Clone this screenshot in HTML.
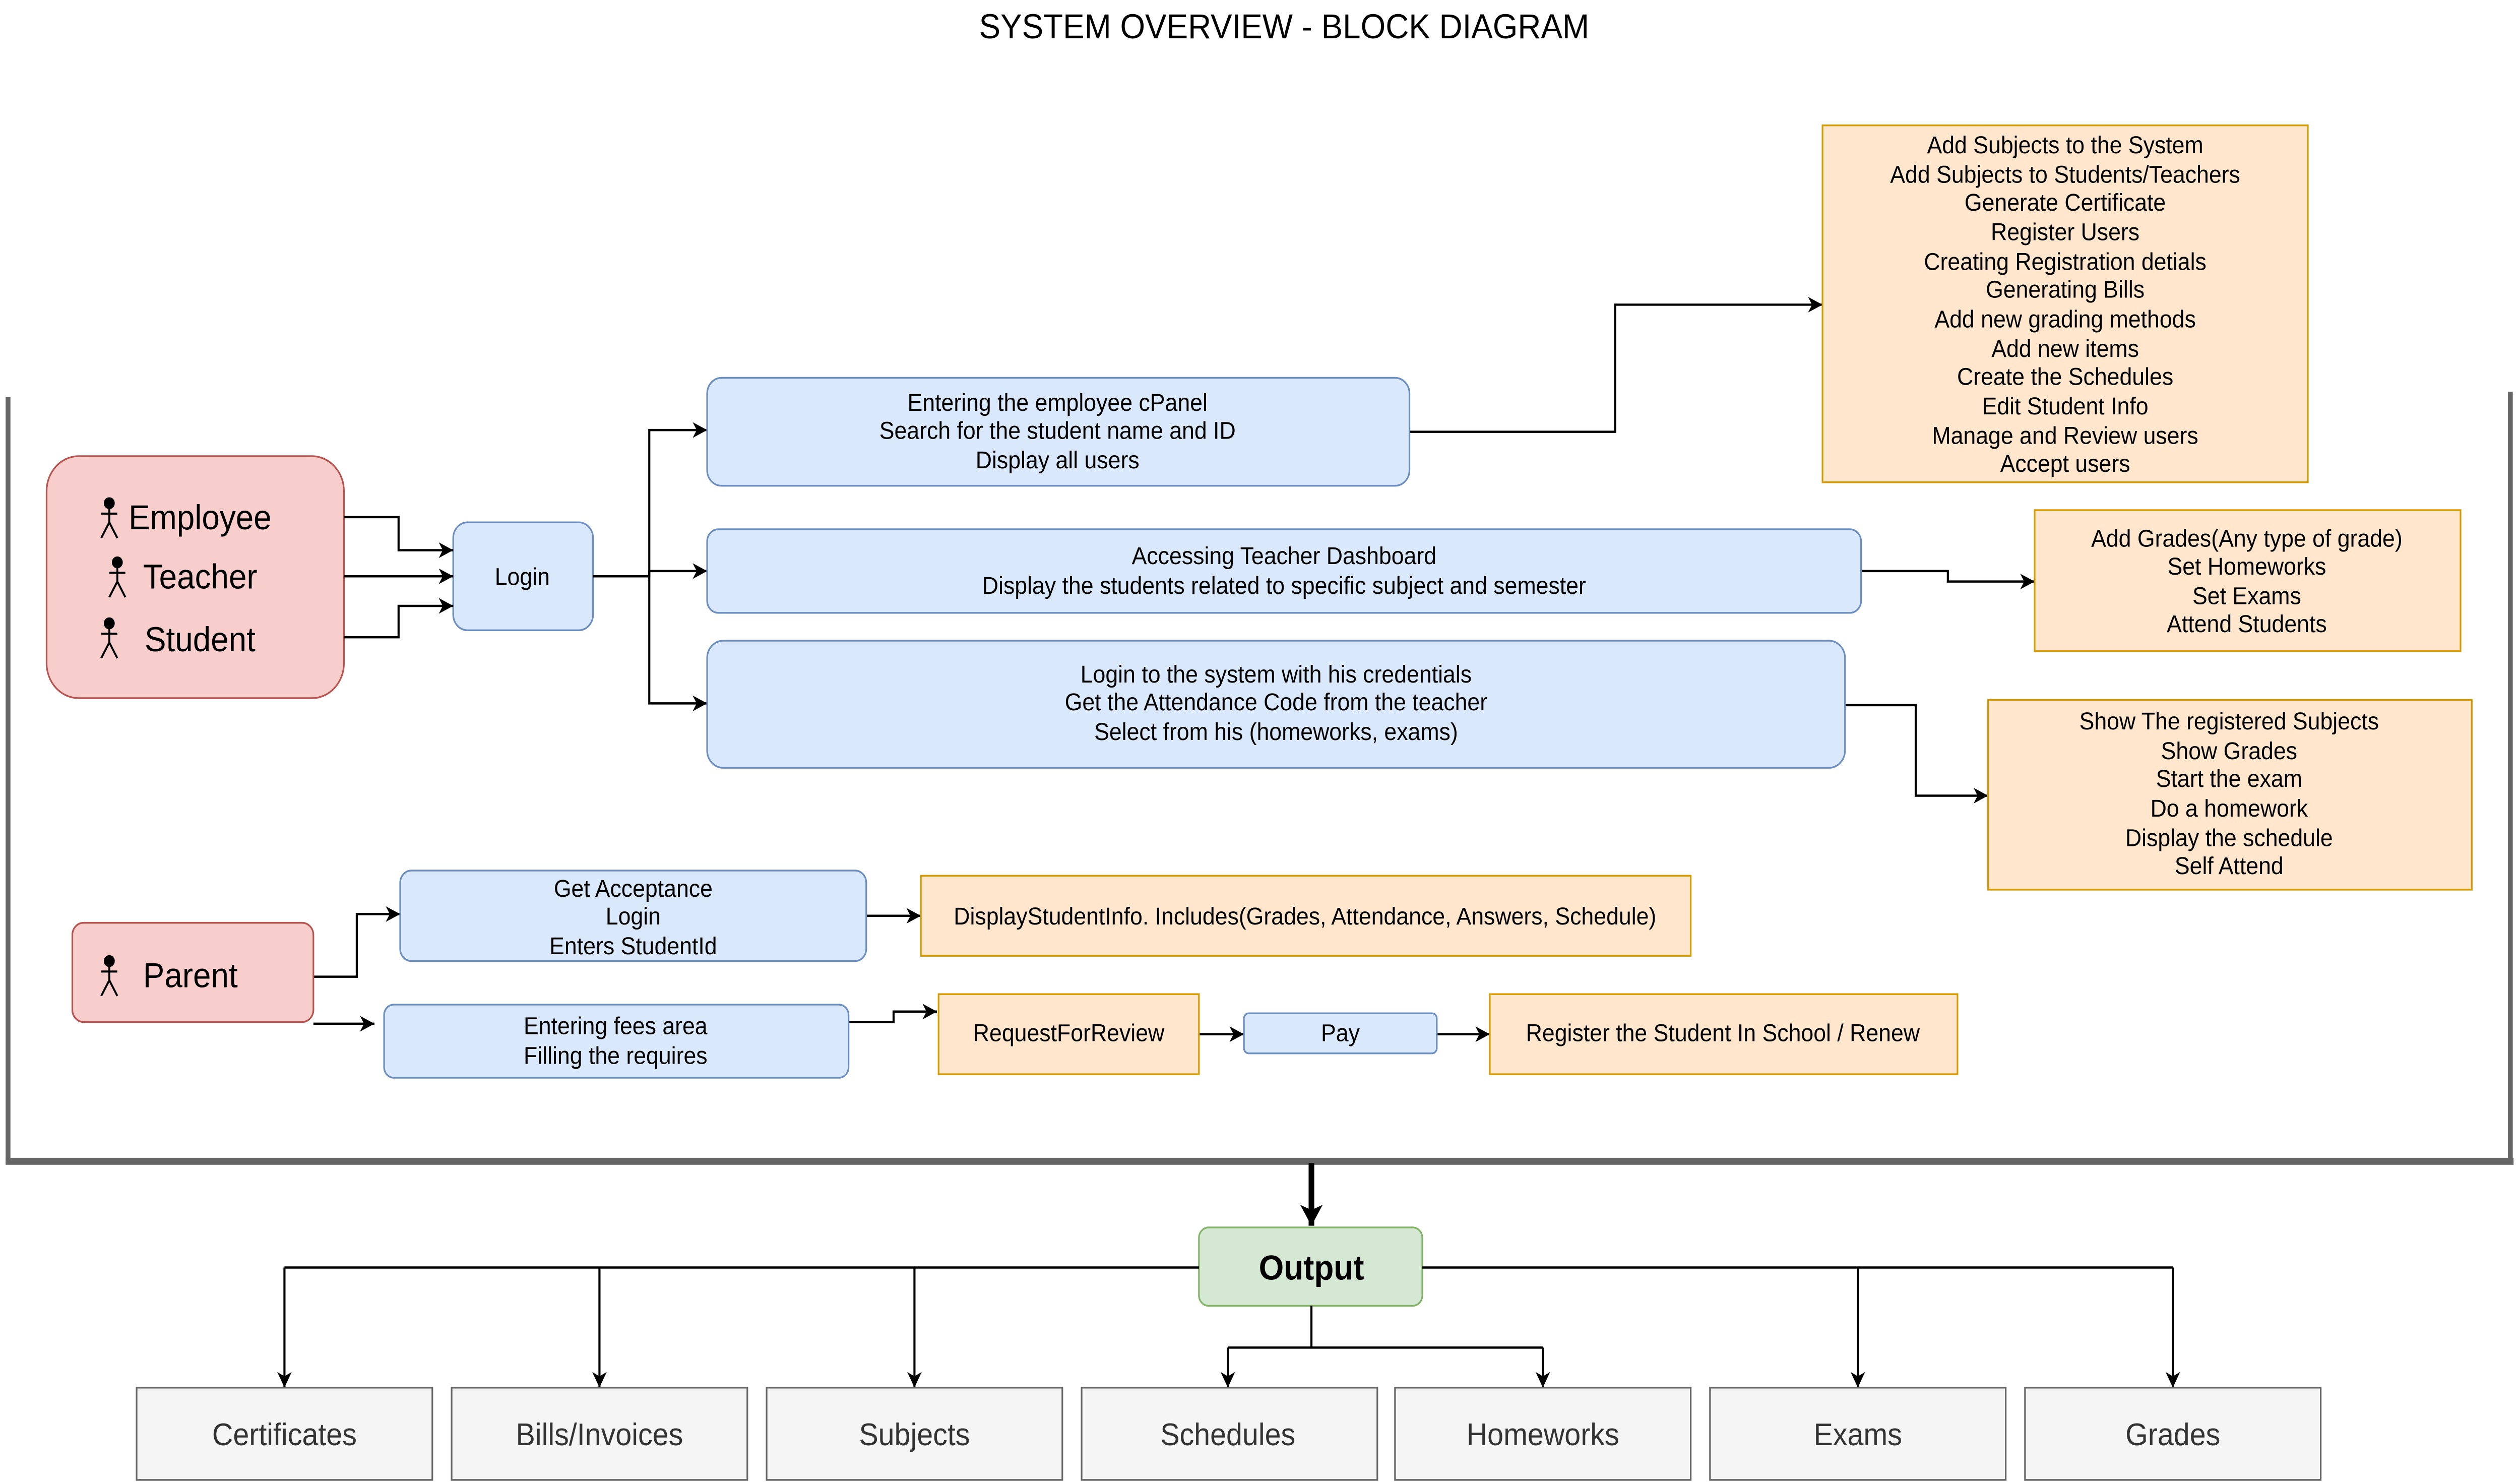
<!DOCTYPE html>
<html><head><meta charset="utf-8"><style>
html,body{margin:0;padding:0;background:#fff;overflow:hidden;width:100%;height:100%;}
svg{display:block;position:fixed;left:0;top:0;width:100vw;height:100vh;}
text{font-family:"Liberation Sans",Helvetica,Arial,sans-serif;}
</style></head><body>
<svg xmlns="http://www.w3.org/2000/svg" viewBox="0 0 1568 851.2" preserveAspectRatio="none">
<defs>
<marker id="a" markerWidth="10" markerHeight="10" refX="9" refY="5" orient="auto" markerUnits="userSpaceOnUse"><path d="M0,0.5 L9,5 L0,9.5 L2.5,5 Z" fill="#000"/></marker>
<marker id="a2" markerWidth="14" markerHeight="14" refX="12" refY="7" orient="auto" markerUnits="userSpaceOnUse"><path d="M0,0 L12,7 L0,14 L3,7 Z" fill="#000"/></marker>
<g id="act" stroke="#000" stroke-width="1.2" fill="none"><circle cx="0" cy="-8" r="2.8" fill="#000"/><line x1="0" y1="-5.4" x2="0" y2="3"/><line x1="-5" y1="-2" x2="5" y2="-2"/><line x1="0" y1="3" x2="-5" y2="12"/><line x1="0" y1="3" x2="5" y2="12"/></g>
</defs>
<text x="799" y="22" font-size="20" text-anchor="middle">SYSTEM OVERVIEW - BLOCK DIAGRAM</text>

<g stroke="#666" fill="none">
<line x1="5" y1="228" x2="5" y2="668" stroke-width="3"/>
<line x1="1562" y1="225" x2="1562" y2="668" stroke-width="3"/>
<line x1="3.5" y1="667" x2="1564" y2="667" stroke-width="4"/>
</g>

<rect x="29" y="262" width="185" height="139" rx="20" fill="#f8cecc" stroke="#b85450" stroke-width="1"/>
<use href="#act" x="68" y="297"/><text x="80" y="304" font-size="20">Employee</text>
<use href="#act" x="73" y="331"/><text x="89" y="338" font-size="20">Teacher</text>
<use href="#act" x="68" y="366"/><text x="90" y="374" font-size="20">Student</text>

<rect x="282" y="300" width="87" height="62" rx="9" fill="#dae8fc" stroke="#6c8ebf"/>
<text x="325" y="336" font-size="14" text-anchor="middle">Login</text>

<g stroke="#000" stroke-width="1.3" fill="none" marker-end="url(#a)">
<polyline points="214,297 248,297 248,316 282,316"/>
<polyline points="214,331 282,331"/>
<polyline points="214,366 248,366 248,348 282,348"/>
<polyline points="369,331 404,331 404,247 440,247"/>
<polyline points="404,331 404,328 440,328"/>
<polyline points="404,331 404,404 440,404"/>
<polyline points="877,248 1005,248 1005,175 1134,175"/>
<polyline points="1158,328 1212,328 1212,334 1266,334"/>
<polyline points="1148,405 1192,405 1192,457 1237,457"/>
<polyline points="195,561 222,561 222,525 249,525"/>
<polyline points="195,588 233,588"/>
<polyline points="539,526 573,526"/>
<polyline points="528,587 556,587 556,581 583,581"/>
<polyline points="746,594 774,594"/>
<polyline points="894,594 927,594"/>
</g>

<g fill="#dae8fc" stroke="#6c8ebf">
<rect x="440" y="217" width="437" height="62" rx="9"/>
<rect x="440" y="304" width="718" height="48" rx="7"/>
<rect x="440" y="368" width="708" height="73" rx="10"/>
<rect x="249" y="500" width="290" height="52" rx="7"/>
<rect x="239" y="577" width="289" height="42" rx="6"/>
<rect x="774" y="582" width="120" height="23" rx="3"/>
</g>
<g font-size="14" text-anchor="middle">
<text x="658" y="236">Entering the employee cPanel</text>
<text x="658" y="252">Search for the student name and ID</text>
<text x="658" y="269">Display all users</text>
<text x="799" y="324">Accessing Teacher Dashboard</text>
<text x="799" y="341">Display the students related to specific subject and semester</text>
<text x="794" y="392">Login to the system with his credentials</text>
<text x="794" y="408">Get the Attendance Code from the teacher</text>
<text x="794" y="425">Select from his (homeworks, exams)</text>
<text x="394" y="515">Get Acceptance</text>
<text x="394" y="531">Login</text>
<text x="394" y="548">Enters StudentId</text>
<text x="383" y="594">Entering fees area</text>
<text x="383" y="611">Filling the requires</text>
<text x="834" y="598">Pay</text>
</g>

<g fill="#ffe6cc" stroke="#d79b00">
<rect x="1134" y="72" width="302" height="205"/>
<rect x="1266" y="293" width="265" height="81"/>
<rect x="1237" y="402" width="301" height="109"/>
<rect x="573" y="503" width="479" height="46"/>
<rect x="584" y="571" width="162" height="46"/>
<rect x="927" y="571" width="291" height="46"/>
</g>
<g font-size="14" text-anchor="middle">
<text x="1285" y="88">Add Subjects to the System</text>
<text x="1285" y="105">Add Subjects to Students/Teachers</text>
<text x="1285" y="121">Generate Certificate</text>
<text x="1285" y="138">Register Users</text>
<text x="1285" y="155">Creating Registration detials</text>
<text x="1285" y="171">Generating Bills</text>
<text x="1285" y="188">Add new grading methods</text>
<text x="1285" y="205">Add new items</text>
<text x="1285" y="221">Create the Schedules</text>
<text x="1285" y="238">Edit Student Info</text>
<text x="1285" y="255">Manage and Review users</text>
<text x="1285" y="271">Accept users</text>
<text x="1398" y="314">Add Grades(Any type of grade)</text>
<text x="1398" y="330">Set Homeworks</text>
<text x="1398" y="347">Set Exams</text>
<text x="1398" y="363">Attend Students</text>
<text x="1387" y="419">Show The registered Subjects</text>
<text x="1387" y="436">Show Grades</text>
<text x="1387" y="452">Start the exam</text>
<text x="1387" y="469">Do a homework</text>
<text x="1387" y="486">Display the schedule</text>
<text x="1387" y="502">Self Attend</text>
<text x="812" y="531">DisplayStudentInfo. Includes(Grades, Attendance, Answers, Schedule)</text>
<text x="665" y="598">RequestForReview</text>
<text x="1072" y="598">Register the Student In School / Renew</text>
</g>

<rect x="45" y="530" width="150" height="57" rx="7" fill="#f8cecc" stroke="#b85450"/>
<use href="#act" x="68" y="560"/><text x="89" y="567" font-size="20">Parent</text>

<line x1="816" y1="668" x2="816" y2="704" stroke="#000" stroke-width="3.5" marker-end="url(#a2)"/>
<rect x="746" y="705" width="139" height="45" rx="6" fill="#d5e8d4" stroke="#82b366"/>
<text x="816" y="735" font-size="20" font-weight="bold" text-anchor="middle">Output</text>
<g stroke="#000" stroke-width="1.3" fill="none">
<line x1="177" y1="728" x2="746" y2="728"/>
<line x1="885" y1="728" x2="1352" y2="728"/>
<line x1="816" y1="750" x2="816" y2="774"/>
<line x1="764" y1="774" x2="960" y2="774"/>
</g>
<g stroke="#000" stroke-width="1.3" fill="none" marker-end="url(#a)">
<line x1="177" y1="728" x2="177" y2="797"/>
<line x1="373" y1="728" x2="373" y2="797"/>
<line x1="569" y1="728" x2="569" y2="797"/>
<line x1="764" y1="774" x2="764" y2="797"/>
<line x1="960" y1="774" x2="960" y2="797"/>
<line x1="1156" y1="728" x2="1156" y2="797"/>
<line x1="1352" y1="728" x2="1352" y2="797"/>
</g>
<g fill="#f5f5f5" stroke="#666">
<rect x="85" y="797" width="184" height="53"/>
<rect x="281" y="797" width="184" height="53"/>
<rect x="477" y="797" width="184" height="53"/>
<rect x="673" y="797" width="184" height="53"/>
<rect x="868" y="797" width="184" height="53"/>
<rect x="1064" y="797" width="184" height="53"/>
<rect x="1260" y="797" width="184" height="53"/>
</g>
<g font-size="18" fill="#333" text-anchor="middle">
<text x="177" y="830">Certificates</text>
<text x="373" y="830">Bills/Invoices</text>
<text x="569" y="830">Subjects</text>
<text x="764" y="830">Schedules</text>
<text x="960" y="830">Homeworks</text>
<text x="1156" y="830">Exams</text>
<text x="1352" y="830">Grades</text>
</g>
</svg>
</body></html>
